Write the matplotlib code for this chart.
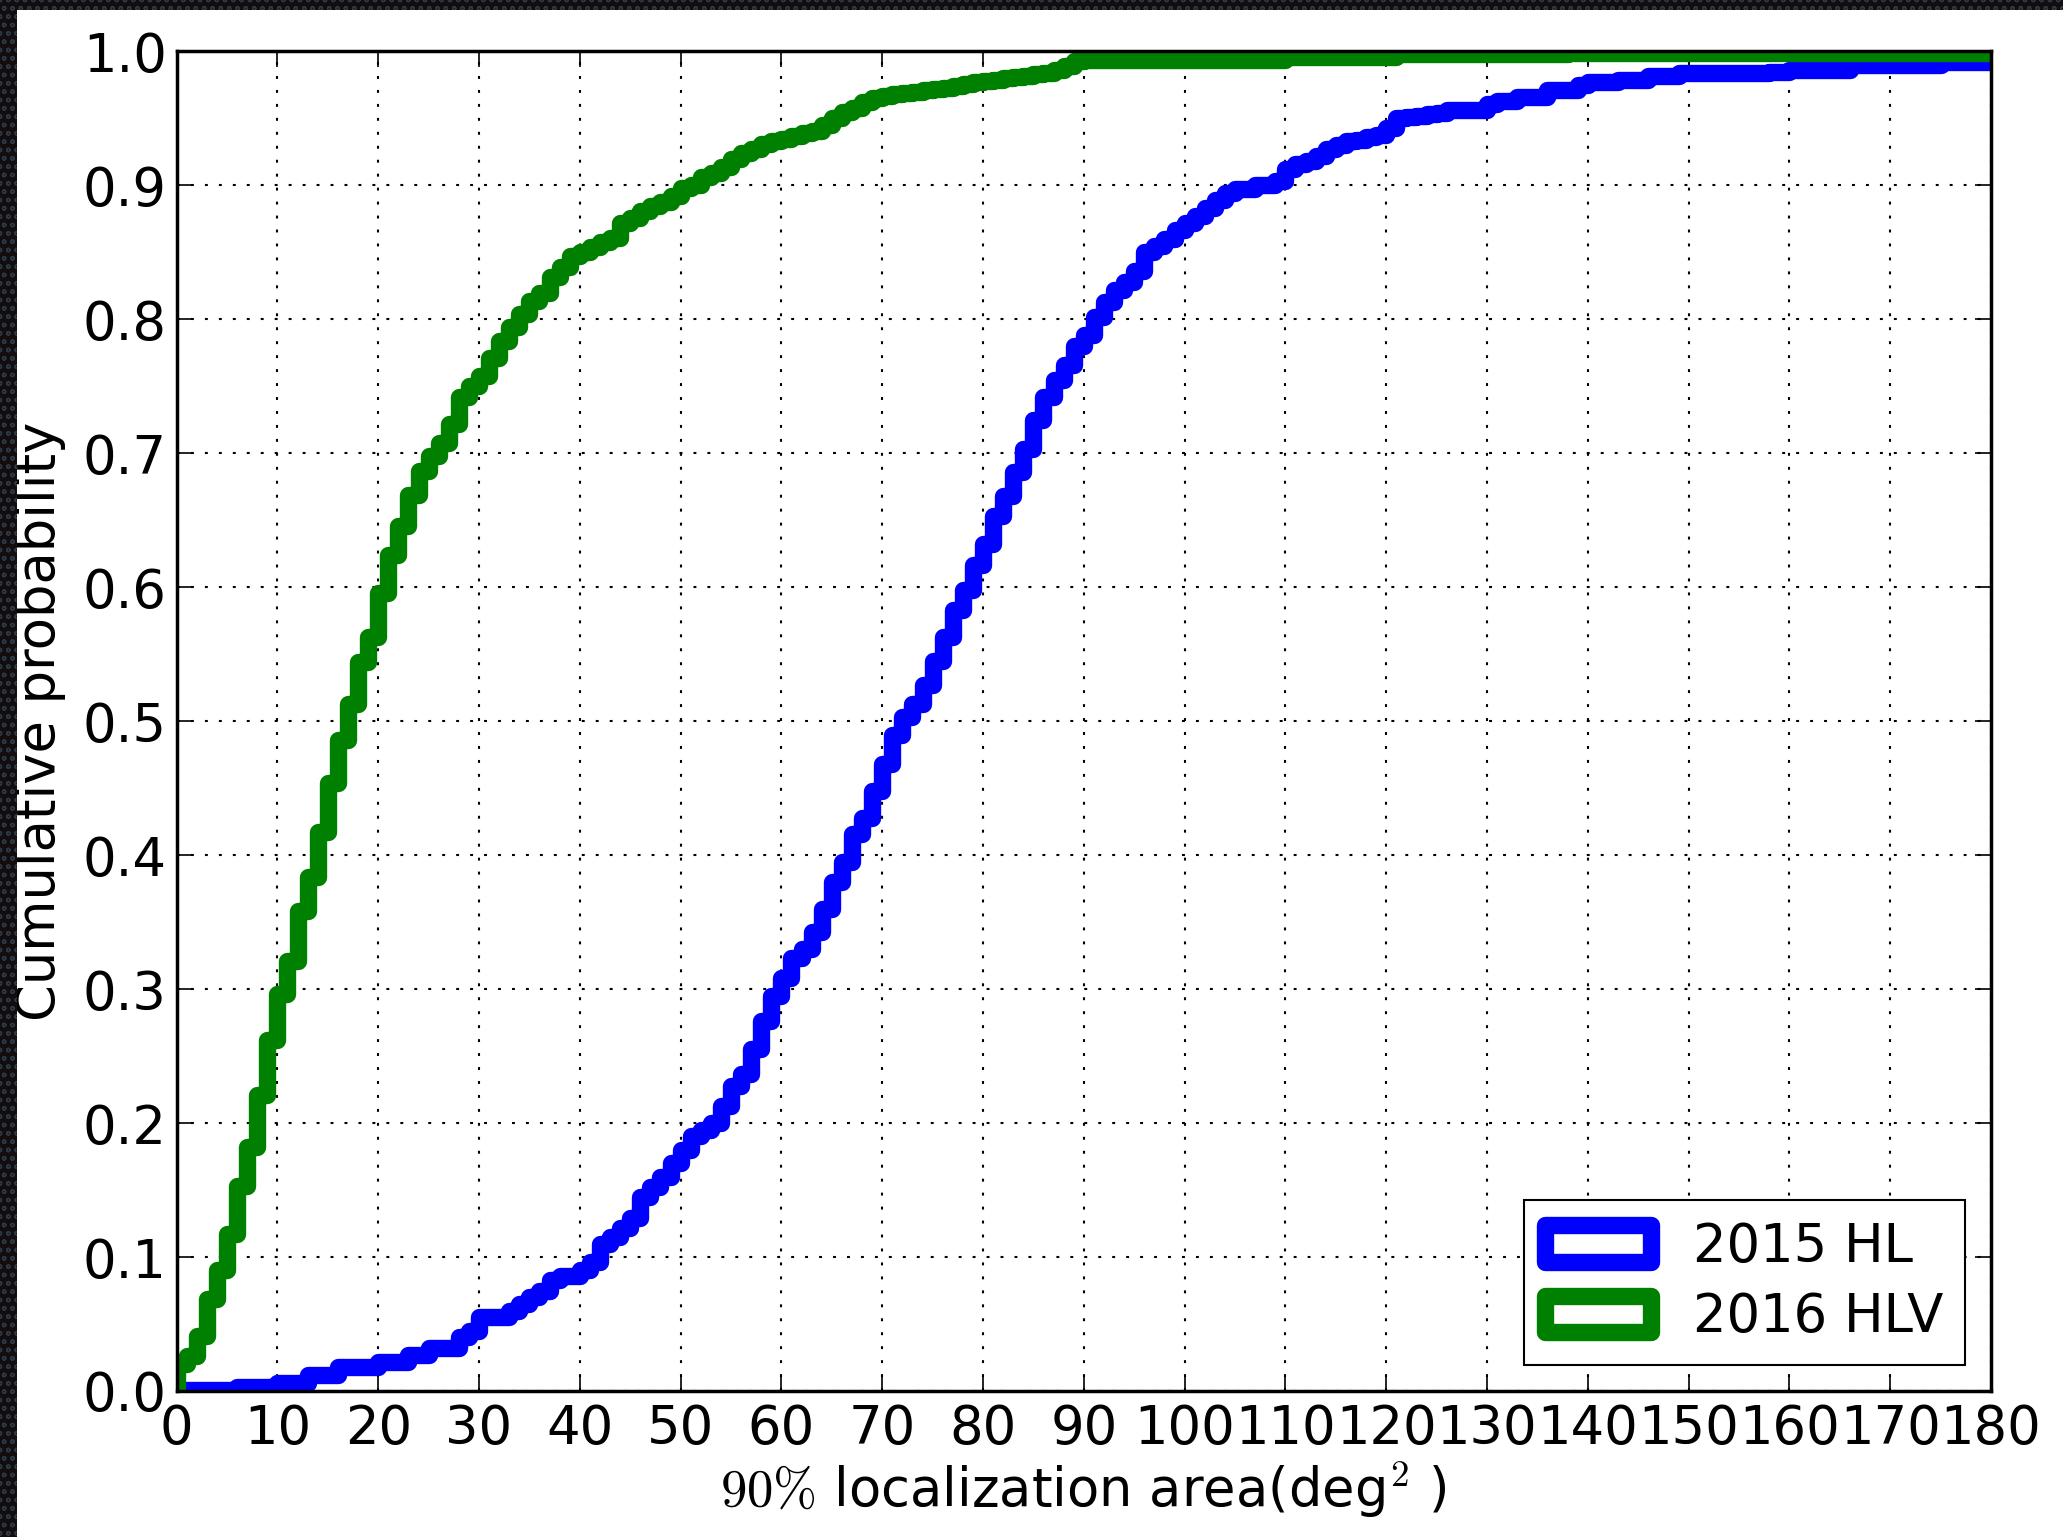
import numpy as np
import matplotlib
matplotlib.use('Agg')
import matplotlib.pyplot as plt
from matplotlib.patches import Rectangle

# cumulative probability for each 1 deg^2 bin (bins 0..179)
hl_2015 = [
    0.001, 0.001, 0.001, 0.001, 0.001, 0.001, 0.003, 0.003, 0.003, 0.003,
    0.006, 0.006, 0.006, 0.012, 0.012, 0.012, 0.018, 0.018, 0.018, 0.018,
    0.022, 0.022, 0.022, 0.027, 0.027, 0.032, 0.032, 0.032, 0.040, 0.045,
    0.055, 0.055, 0.055, 0.060, 0.065, 0.070, 0.075, 0.083, 0.086, 0.086,
    0.090, 0.096, 0.110, 0.115, 0.122, 0.129, 0.145, 0.152, 0.160, 0.170,
    0.180, 0.190, 0.195, 0.200, 0.213, 0.228, 0.237, 0.255, 0.276, 0.295,
    0.308, 0.323, 0.330, 0.343, 0.360, 0.380, 0.395, 0.416, 0.428, 0.448,
    0.468, 0.490, 0.503, 0.513, 0.527, 0.545, 0.563, 0.583, 0.598, 0.617,
    0.632, 0.653, 0.668, 0.686, 0.703, 0.725, 0.742, 0.755, 0.766, 0.780,
    0.788, 0.802, 0.813, 0.822, 0.828, 0.836, 0.850, 0.855, 0.860, 0.867,
    0.872, 0.877, 0.883, 0.889, 0.894, 0.897, 0.897, 0.900, 0.900, 0.903,
    0.912, 0.916, 0.918, 0.922, 0.927, 0.930, 0.933, 0.934, 0.936, 0.938,
    0.943, 0.950, 0.951, 0.952, 0.953, 0.954, 0.956, 0.956, 0.956, 0.956,
    0.961, 0.963, 0.963, 0.966, 0.966, 0.966, 0.971, 0.971, 0.971, 0.975,
    0.977, 0.977, 0.977, 0.979, 0.979, 0.979, 0.982, 0.982, 0.982, 0.984,
    0.984, 0.984, 0.984, 0.984, 0.984, 0.984, 0.984, 0.984, 0.985, 0.985,
    0.986, 0.986, 0.986, 0.986, 0.986, 0.986, 0.990, 0.990, 0.990, 0.990,
    0.990, 0.990, 0.990, 0.990, 0.990, 0.992, 0.992, 0.992, 0.992, 0.992,
]
hlv_2016 = [
    0.020, 0.026, 0.041, 0.069, 0.090, 0.117, 0.153, 0.182, 0.221, 0.262,
    0.296, 0.321, 0.358, 0.384, 0.417, 0.454, 0.486, 0.513, 0.544, 0.563,
    0.596, 0.624, 0.646, 0.669, 0.687, 0.698, 0.708, 0.722, 0.742, 0.750,
    0.758, 0.771, 0.784, 0.794, 0.804, 0.814, 0.820, 0.832, 0.839, 0.847,
    0.850, 0.854, 0.858, 0.861, 0.872, 0.876, 0.881, 0.885, 0.888, 0.892,
    0.898, 0.900, 0.906, 0.909, 0.914, 0.920, 0.924, 0.927, 0.931, 0.933,
    0.935, 0.937, 0.939, 0.941, 0.945, 0.950, 0.955, 0.958, 0.962, 0.965,
    0.967, 0.968, 0.969, 0.970, 0.971, 0.972, 0.973, 0.974, 0.976, 0.977,
    0.978, 0.979, 0.980, 0.981, 0.982, 0.983, 0.984, 0.986, 0.989, 0.993,
    0.994, 0.994, 0.994, 0.994, 0.994, 0.994, 0.994, 0.994, 0.994, 0.994,
    0.994, 0.994, 0.994, 0.994, 0.994, 0.994, 0.994, 0.994, 0.994, 0.994,
    0.996, 0.996, 0.996, 0.996, 0.996, 0.996, 0.996, 0.996, 0.996, 0.996,
    0.996, 0.998, 0.998, 0.998, 0.998, 0.998, 0.998, 0.998, 0.998, 0.998,
    0.998, 0.998, 0.998, 0.998, 0.998, 0.998, 0.998, 0.998, 0.999, 0.999,
    0.999, 0.999, 0.999, 0.999, 0.999, 0.999, 0.999, 0.999, 0.999, 0.999,
    0.999, 0.999, 0.999, 0.999, 0.999, 0.999, 0.999, 0.999, 0.999, 0.999,
    0.999, 0.999, 0.999, 0.999, 0.999, 0.999, 0.999, 0.999, 0.999, 0.999,
    0.999, 0.999, 0.999, 0.999, 0.999, 0.999, 0.999, 0.999, 0.999, 0.999,
]
labels = ['2015 HL', '2016 HLV']
colors = ['b', 'g']

plt.rcParams['font.family'] = 'DejaVu Sans'
plt.rcParams['font.size'] = 38
plt.rcParams['mathtext.fontset'] = 'cm'

fig = plt.figure(figsize=(20.63, 15.37), dpi=100)
ax = fig.add_axes([0.0856, 0.0950, 0.8795, 0.8715])

# 1 deg^2 bins, the last one runs past the frame so no drop is drawn at 180
edges = np.arange(0, 181, dtype=float)
edges[-1] = 186.0

for cdf, lab, c in zip([hl_2015, hlv_2016], labels, colors):
    w = np.diff(np.array(cdf), prepend=0.0)
    ax.hist(edges[:-1], bins=edges, weights=w, cumulative=True,
            histtype='step', lw=12.5, color=c, label=lab,
            joinstyle='round', capstyle='round')

ax.set_xlim(0, 180)
ax.set_ylim(0, 1.0)
ax.set_xticks(np.arange(0, 181, 10))
ax.set_yticks(np.arange(0, 1.01, 0.1))
ax.set_axisbelow(True)
ax.grid(True, color='k', linestyle=(0, (1.4, 5.3)), linewidth=1.5)

ax.tick_params(direction='in', length=11.5, width=1.2, top=True, right=True,
               labelsize=38)
ax.tick_params(axis='x', pad=9)
ax.tick_params(axis='y', pad=7)
for s in ax.spines.values():
    s.set_linewidth(2.5)

ax.set_xlabel(r'$90\%$ localization area(deg$^2$ )', fontsize=38, labelpad=3)
ax.set_ylabel('Cumulative probability', fontsize=38, labelpad=12)

leg = ax.legend(loc='lower right', fancybox=False, framealpha=1,
                edgecolor='k', borderaxespad=0.5, fontsize=38,
                labelspacing=0.35)
leg.get_frame().set_linewidth(1.5)
for p in leg.get_patches():
    p.set_joinstyle('round')

# dark slide border along the left and top edges
fig.patches.append(Rectangle((0, 0), 17 / 2063, 1, transform=fig.transFigure,
                             facecolor='#120d0f', edgecolor='#2c3843',
                             hatch='oo', lw=0, zorder=10))
fig.patches.append(Rectangle((0, 1 - 10 / 1537), 1, 10 / 1537,
                             transform=fig.transFigure, facecolor='#120d0f',
                             edgecolor='#2c3843', hatch='oo', lw=0, zorder=10))

fig.savefig('out.png', dpi=100)
